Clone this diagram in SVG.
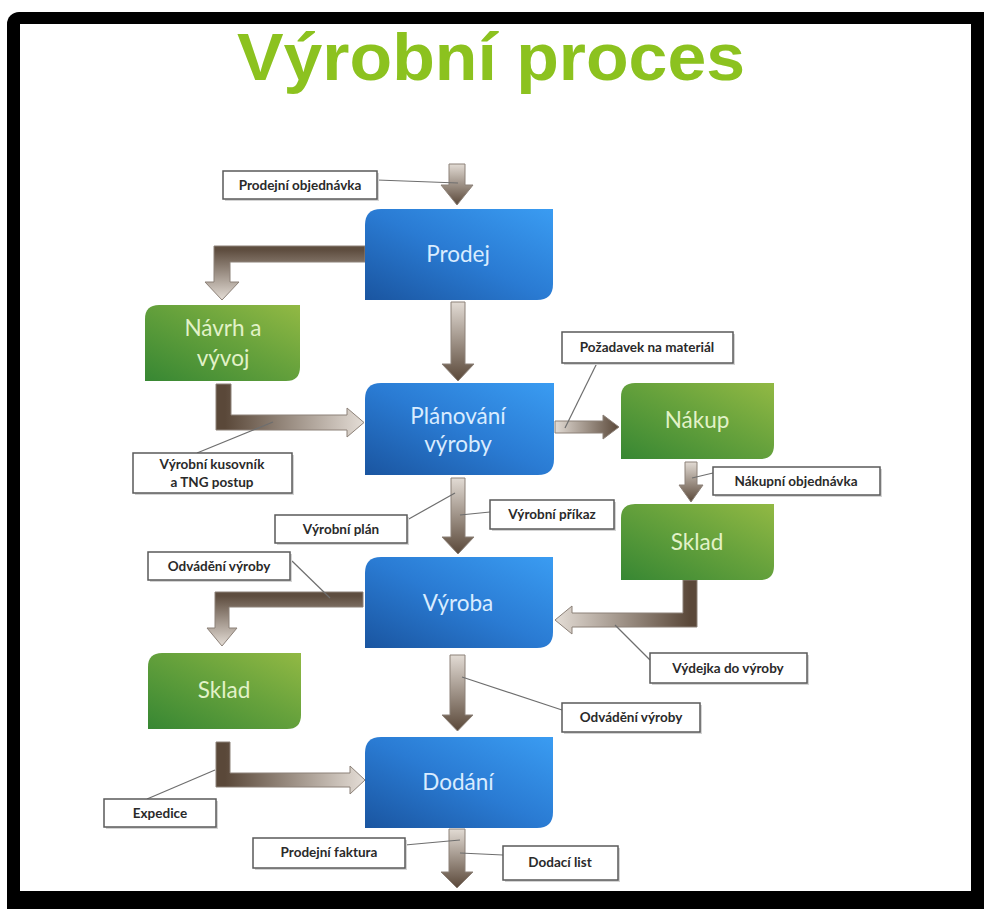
<svg xmlns="http://www.w3.org/2000/svg" width="984" height="909" viewBox="0 0 984 909">
<defs>
<linearGradient id="gBlue" x1="0" y1="1" x2="1" y2="0">
<stop offset="0" stop-color="#1a55a0"/><stop offset="0.5" stop-color="#2a7bd3"/><stop offset="1" stop-color="#3a9cf2"/>
</linearGradient>
<linearGradient id="gGreen" x1="0" y1="1" x2="1" y2="0">
<stop offset="0" stop-color="#378733"/><stop offset="0.55" stop-color="#67a23c"/><stop offset="1" stop-color="#92b944"/>
</linearGradient>
<linearGradient id="gDown" x1="0" y1="0" x2="0" y2="1">
<stop offset="0" stop-color="#e2dbd4"/><stop offset="1" stop-color="#5a4839"/>
</linearGradient>
<linearGradient id="gRight" x1="0" y1="0" x2="1" y2="0">
<stop offset="0" stop-color="#e2dbd4"/><stop offset="1" stop-color="#5a4839"/>
</linearGradient>
<linearGradient id="gE1" gradientUnits="userSpaceOnUse" x1="0" y1="250" x2="0" y2="300">
<stop offset="0" stop-color="#5e4d3f"/><stop offset="1" stop-color="#e4ddd6"/>
</linearGradient>
<linearGradient id="gE2" gradientUnits="userSpaceOnUse" x1="225" y1="0" x2="364" y2="0">
<stop offset="0" stop-color="#5a4839"/><stop offset="1" stop-color="#e4ddd6"/>
</linearGradient>
<linearGradient id="gE3" gradientUnits="userSpaceOnUse" x1="690" y1="0" x2="555" y2="0">
<stop offset="0" stop-color="#5a4839"/><stop offset="1" stop-color="#e4ddd6"/>
</linearGradient>
<linearGradient id="gE4" gradientUnits="userSpaceOnUse" x1="0" y1="596" x2="0" y2="646">
<stop offset="0" stop-color="#5e4d3f"/><stop offset="1" stop-color="#e4ddd6"/>
</linearGradient>
<linearGradient id="gE5" gradientUnits="userSpaceOnUse" x1="225" y1="0" x2="365" y2="0">
<stop offset="0" stop-color="#5a4839"/><stop offset="1" stop-color="#e4ddd6"/>
</linearGradient>
</defs>
<style>
.title{font-family:"Liberation Sans",Arial,sans-serif;font-weight:bold;font-size:66px;fill:#8cc21f}
.bt{font-family:Lato,"Open Sans",sans-serif;font-size:22.5px;fill:#d9ecff;text-anchor:middle}
.gt{font-family:Lato,"Open Sans",sans-serif;font-size:22.5px;fill:#e2f2c8;text-anchor:middle}
.arr{stroke:#8c8178;stroke-width:1}
.lb{fill:#ffffff;stroke:#5a5a5a;stroke-width:1.5}
.sh{fill:#d4d4d4}
.lt{font-family:Lato,"Open Sans",sans-serif;font-size:13.5px;font-weight:bold;fill:#2a2a2a;text-anchor:middle}
.ld{stroke:#6e6e6e;stroke-width:1.2;fill:none}
</style>
<rect x="7" y="12" width="1000" height="920" rx="12" fill="#000"/>
<rect x="20" y="24" width="951" height="867" fill="#fff"/>
<text class="title" x="491" y="80" text-anchor="middle" textLength="508" lengthAdjust="spacingAndGlyphs">Výrobní proces</text>

<g id="connectors">
<polygon class="arr" fill="url(#gDown)" points="449,164 465,164 465,185 473,185 457,205 441,185 449,185"/>
<polygon class="arr" fill="url(#gDown)" points="451,302 465,302 465,364 474,364 458,381 442,364 451,364"/>
<polygon class="arr" fill="url(#gDown)" points="451,478 465,478 465,537 474,537 458,554 442,537 451,537"/>
<polygon class="arr" fill="url(#gDown)" points="450,655 465,655 465,715 473,715 457.5,731 442,715 450,715"/>
<polygon class="arr" fill="url(#gDown)" points="449,829 465,829 465,872 473,872 457,888 441,872 449,872"/>
<polygon class="arr" fill="url(#gDown)" points="685,462 697,462 697,485 703,485 691,502 679,485 685,485"/>
<polygon class="arr" fill="url(#gRight)" points="555,421 603,421 603,415 619,427 603,439 603,433 555,433"/>
<polygon class="arr" fill="url(#gE1)" points="365,246 214,246 214,282 205,282 222,300 239,282 230,282 230,262 365,262"/>
<polygon class="arr" fill="url(#gE2)" points="216,384 231,384 231,415 347,415 347,408 364,422.5 347,437 347,430 216,430"/>
<polygon class="arr" fill="url(#gE3)" points="697,580 683,580 683,613 572,613 572,606 555,620 572,634 572,627 697,627"/>
<polygon class="arr" fill="url(#gE4)" points="363,592 215,592 215,628 207,628 222,646 237,628 229,628 229,607 363,607"/>
<polygon class="arr" fill="url(#gE5)" points="216,742 230,742 230,773 350,773 350,766 365,780 350,794 350,787 216,787"/>
<line class="ld" x1="377" y1="180" x2="458" y2="183"/>
<line class="ld" x1="597" y1="363" x2="565" y2="428"/>
<line class="ld" x1="197" y1="453" x2="273" y2="422"/>
<line class="ld" x1="407" y1="520" x2="455" y2="493"/>
<line class="ld" x1="490" y1="512" x2="460" y2="515"/>
<line class="ld" x1="713" y1="473" x2="692" y2="478"/>
<line class="ld" x1="292" y1="561" x2="330" y2="598"/>
<line class="ld" x1="650" y1="660" x2="615" y2="625"/>
<line class="ld" x1="562" y1="710" x2="462" y2="677"/>
<line class="ld" x1="147" y1="799" x2="215" y2="770"/>
<line class="ld" x1="405" y1="845" x2="460" y2="840"/>
<line class="ld" x1="503" y1="855" x2="460" y2="853"/>
</g>

<g id="prodej">
<path fill="url(#gBlue)" d="M381,209 H553 V284 Q553,300 537,300 H365 V225 Q365,209 381,209 Z"/>
<text class="bt" x="458" y="262">Prodej</text>
</g>
<g id="planovani">
<path fill="url(#gBlue)" d="M381,383 H554 V459 Q554,475 538,475 H365 V399 Q365,383 381,383 Z"/>
<text class="bt" x="458" y="424">Plánování</text>
<text class="bt" x="458" y="452">výroby</text>
</g>
<g id="vyroba">
<path fill="url(#gBlue)" d="M381,557 H553 V632 Q553,648 537,648 H365 V573 Q365,557 381,557 Z"/>
<text class="bt" x="458" y="611">Výroba</text>
</g>
<g id="dodani">
<path fill="url(#gBlue)" d="M381,737 H553 V812 Q553,828 537,828 H365 V753 Q365,737 381,737 Z"/>
<text class="bt" x="458" y="790">Dodání</text>
</g>
<g id="navrh">
<path fill="url(#gGreen)" d="M159,305 H300 V367 Q300,381 286,381 H145 V319 Q145,305 159,305 Z"/>
<text class="gt" x="223" y="336">Návrh a</text>
<text class="gt" x="223" y="366">vývoj</text>
</g>
<g id="nakup">
<path fill="url(#gGreen)" d="M635,383 H774 V445 Q774,459 760,459 H621 V397 Q621,383 635,383 Z"/>
<text class="gt" x="697" y="428">Nákup</text>
</g>
<g id="sklad-right">
<path fill="url(#gGreen)" d="M635,504 H774 V566 Q774,580 760,580 H621 V518 Q621,504 635,504 Z"/>
<text class="gt" x="697" y="550">Sklad</text>
</g>
<g id="sklad-left">
<path fill="url(#gGreen)" d="M162,653 H301 V715 Q301,729 287,729 H148 V667 Q148,653 162,653 Z"/>
<text class="gt" x="224" y="698">Sklad</text>
</g>

<g id="lbl-prodejni-objednavka">
<rect class="sh" x="225" y="173" width="154" height="28"/>
<rect class="lb" x="223" y="171" width="154" height="28"/>
<text class="lt" x="300" y="190">Prodejní objednávka</text>
</g>
<g id="lbl-pozadavek">
<rect class="sh" x="564" y="334" width="171" height="31"/>
<rect class="lb" x="562" y="332" width="171" height="31"/>
<text class="lt" x="647" y="352">Požadavek na materiál</text>
</g>
<g id="lbl-kusovnik">
<rect class="sh" x="135" y="455" width="159" height="40"/>
<rect class="lb" x="133" y="453" width="159" height="40"/>
<text class="lt" x="212" y="469">Výrobní kusovník</text>
<text class="lt" x="212" y="487">a TNG  postup</text>
</g>
<g id="lbl-vyrobni-plan">
<rect class="sh" x="277" y="517" width="132" height="28"/>
<rect class="lb" x="275" y="515" width="132" height="28"/>
<text class="lt" x="341" y="534">Výrobní plán</text>
</g>
<g id="lbl-vyrobni-prikaz">
<rect class="sh" x="492" y="502" width="124" height="29"/>
<rect class="lb" x="490" y="500" width="124" height="29"/>
<text class="lt" x="552" y="519">Výrobní příkaz</text>
</g>
<g id="lbl-nakupni-objednavka">
<rect class="sh" x="715" y="469" width="167" height="28"/>
<rect class="lb" x="713" y="467" width="167" height="28"/>
<text class="lt" x="796" y="486">Nákupní objednávka</text>
</g>
<g id="lbl-odvadeni-left">
<rect class="sh" x="150" y="554" width="142" height="28"/>
<rect class="lb" x="148" y="552" width="142" height="28"/>
<text class="lt" x="219" y="571">Odvádění výroby</text>
</g>
<g id="lbl-vydejka">
<rect class="sh" x="652" y="655" width="157" height="30"/>
<rect class="lb" x="650" y="653" width="157" height="30"/>
<text class="lt" x="728" y="673">Výdejka do výroby</text>
</g>
<g id="lbl-odvadeni-right">
<rect class="sh" x="564" y="705" width="138" height="29"/>
<rect class="lb" x="562" y="703" width="138" height="29"/>
<text class="lt" x="631" y="722">Odvádění výroby</text>
</g>
<g id="lbl-expedice">
<rect class="sh" x="106" y="801" width="112" height="28"/>
<rect class="lb" x="104" y="799" width="112" height="28"/>
<text class="lt" x="160" y="818">Expedice</text>
</g>
<g id="lbl-prodejni-faktura">
<rect class="sh" x="255" y="840" width="152" height="30"/>
<rect class="lb" x="253" y="838" width="152" height="30"/>
<text class="lt" x="329" y="857">Prodejní faktura</text>
</g>
<g id="lbl-dodaci-list">
<rect class="sh" x="505" y="848" width="115" height="34"/>
<rect class="lb" x="503" y="846" width="115" height="34"/>
<text class="lt" x="560" y="867">Dodací list</text>
</g>
</svg>
